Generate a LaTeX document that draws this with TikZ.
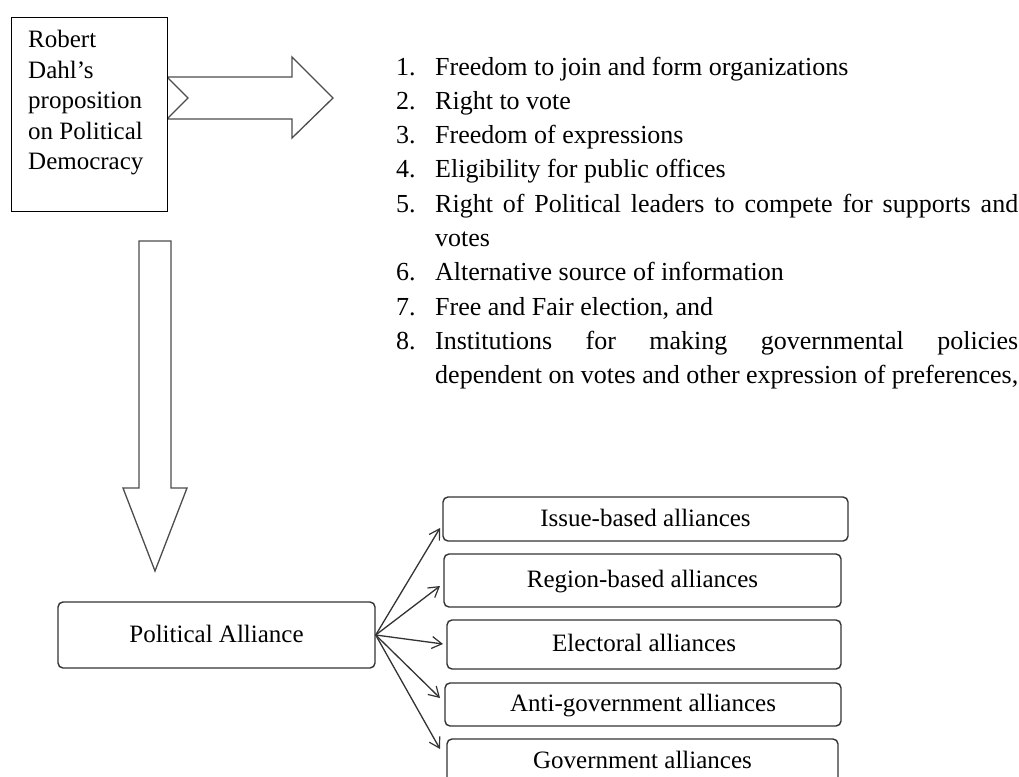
\documentclass[tikz,border=0pt]{standalone}
\usepackage{fontspec}
\setmainfont{Liberation Serif}
\usetikzlibrary{arrows.meta}
\begin{document}
\begin{tikzpicture}[x=1pt,y=-1pt,
  blockarrow/.style={draw=black!70, line width=1.3pt, fill=white, line join=miter},
  plainbox/.style={draw=black, line width=1.2pt, fill=white, inner sep=0pt},
  roundbox/.style={draw=black!80, line width=1.4pt, rounded corners=5pt, fill=white,
    inner sep=0pt, text height=17pt, text depth=3pt,
    font=\fontsize{25}{30}\selectfont},
  conn/.style={draw=black!80, line width=1.3pt, -{Straight Barb[length=10pt,width=12pt,line width=1.2pt]}}
]
\useasboundingbox (0,0) rectangle (1019,776);
\fill[white] (0,0) rectangle (1019,776);
\clip (0,0) rectangle (1019,776);

% right block arrow (behind the box)
\draw[blockarrow] (167,77) -- (292,77) -- (292,57) -- (333,98) -- (292,138)
  -- (292,119) -- (167,119) -- (188,98) -- cycle;

% top-left box
\node[plainbox, minimum width=156pt, minimum height=194pt, anchor=north west] (dahl) at (11,17) {};
\node[anchor=base west, inner sep=0pt] (dahltext) at (28,48)
  {\parbox[t]{136pt}{\raggedright\fontsize{25}{30.5}\selectfont
   Robert\\Dahl’s\\proposition\\on Political\\Democracy}};

% list
\node[anchor=base west, inner sep=0pt] (list) at (396,75)
  {\parbox[t]{622pt}{\fontsize{26}{34.3}\selectfont\tolerance=10000\hbadness=10000
   \hangindent=39pt\hangafter=1\makebox[39pt][l]{1.}Freedom to join and form organizations\par
   \hangindent=39pt\hangafter=1\makebox[39pt][l]{2.}Right to vote\par
   \hangindent=39pt\hangafter=1\makebox[39pt][l]{3.}Freedom of expressions\par
   \hangindent=39pt\hangafter=1\makebox[39pt][l]{4.}Eligibility for public offices\par
   \hangindent=39pt\hangafter=1\makebox[39pt][l]{5.}Right of Political leaders to compete for supports and\linebreak votes\par
   \hangindent=39pt\hangafter=1\makebox[39pt][l]{6.}Alternative source of information\par
   \hangindent=39pt\hangafter=1\makebox[39pt][l]{7.}Free and Fair election, and\par
   \hangindent=39pt\hangafter=1\makebox[39pt][l]{8.}Institutions for making governmental policies\linebreak dependent on votes and other expression of preferences,\par}};

% down block arrow
\draw[blockarrow] (139,241) -- (171,241) -- (171,488) -- (187,488) -- (155,571)
  -- (123,488) -- (139,488) -- cycle;

% political alliance
\node[roundbox, minimum width=317pt, minimum height=66pt] (pa) at (216.5,635) {Political Alliance};

% alliance types
\node[roundbox, minimum width=405pt, minimum height=44pt] (b1) at (645.5,519) {Issue-based alliances};
\node[roundbox, minimum width=397pt, minimum height=53pt] (b2) at (642.5,580.5) {Region-based alliances};
\node[roundbox, minimum width=394pt, minimum height=49pt] (b3) at (644,644.5) {Electoral alliances};
\node[roundbox, minimum width=396pt, minimum height=43pt] (b4) at (643,704.5) {Anti-government alliances};
\node[roundbox, minimum width=391pt, minimum height=44pt] (b5) at (642.5,761) {Government alliances};

\coordinate (t1) at (440,528);
\coordinate (t2) at (440,586);
\coordinate (t3) at (443,644);
\coordinate (t4) at (440,698);
\coordinate (t5) at (440,749);
\foreach \t in {t1,t2,t3,t4,t5} \draw[conn] (pa.east) -- (\t);
\end{tikzpicture}
\end{document}
